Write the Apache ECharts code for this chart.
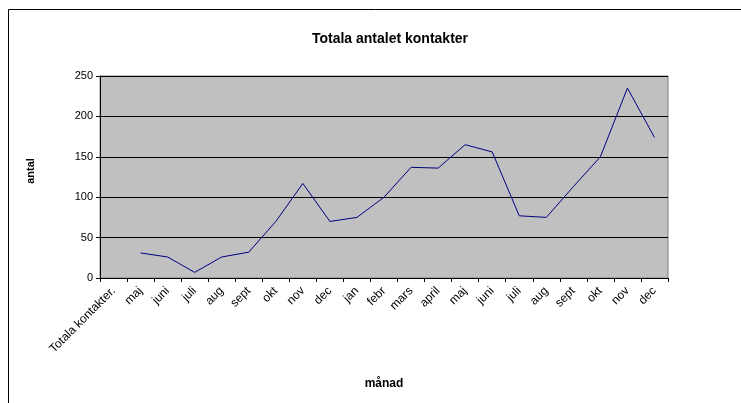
<!DOCTYPE html>
<html>
<head>
<meta charset="utf-8">
<script src="https://cdn.jsdelivr.net/npm/echarts@6/dist/echarts.min.js"></script>
<style>
html,body{margin:0;padding:0;background:#fff;}
#c{width:741px;height:403px;}
</style>
</head>
<body>
<div id="c"></div>
<script>
const titleText = 'Totala antalet kontakter';
const categories = ['Totala kontakter.', 'maj', 'juni', 'juli', 'aug', 'sept', 'okt', 'nov', 'dec', 'jan', 'febr', 'mars', 'april', 'maj', 'juni', 'juli', 'aug', 'sept', 'okt', 'nov', 'dec'];
const values = [null, 31, 26, 7, 26, 32, 70, 117, 70, 75, 100, 137, 136, 165, 156, 77, 75, 113, 150, 235, 174];
const yTicks = [0, 50, 100, 150, 200, 250];

const chart = echarts.init(document.getElementById('c'), null, {renderer: 'canvas'});
const font = 'Arial, "Liberation Sans", sans-serif';
chart.setOption({
  animation: false,
  backgroundColor: '#ffffff',
  title: {
    text: titleText,
    left: 385, top: 27, textAlign: 'center',
    textStyle: {fontFamily: font, fontSize: 14, fontWeight: 'bold', color: '#000'}
  },
  graphic: [{
    type: 'rect', z: -1,
    shape: {x: 8.5, y: 9.5, width: 800, height: 500},
    style: {fill: 'none', stroke: '#000', lineWidth: 1}
  }],
  grid: {
    left: 100, right: 73, top: 76, bottom: 125,
    show: true, backgroundColor: '#c0c0c0', borderColor: '#808080', borderWidth: 1
  },
  xAxis: {
    type: 'category', data: categories, boundaryGap: true,
    name: 'månad', nameLocation: 'middle', nameGap: 100,
    nameTextStyle: {fontFamily: font, fontSize: 12, fontWeight: 'bold', color: '#000'},
    axisLine: {show: true, lineStyle: {color: '#000', width: 1}},
    axisTick: {show: true, interval: 0, length: 4, lineStyle: {color: '#000'}},
    axisLabel: {interval: 0, rotate: 45, margin: 11, fontFamily: font, fontSize: 12, color: '#000'},
    splitLine: {show: false}
  },
  yAxis: {
    type: 'value', min: yTicks[0], max: yTicks[yTicks.length - 1], interval: 50,
    name: 'antal', nameLocation: 'middle', nameGap: 64, nameRotate: 90,
    nameTextStyle: {fontFamily: font, fontSize: 11, fontWeight: 'bold', color: '#000', padding: [0, 0, 0, 12]},
    axisLine: {show: true, lineStyle: {color: '#000', width: 1}},
    axisTick: {show: true, length: 4, lineStyle: {color: '#000'}},
    axisLabel: {margin: 7, fontFamily: font, fontSize: 11, color: '#000'},
    splitLine: {show: true, lineStyle: {color: '#000', width: 1}}
  },
  series: [{
    type: 'line', data: values, showSymbol: false, symbol: 'none',
    connectNulls: false,
    lineStyle: {color: '#000080', width: 1},
    itemStyle: {color: '#000080'}
  }]
});
</script>
</body>
</html>
